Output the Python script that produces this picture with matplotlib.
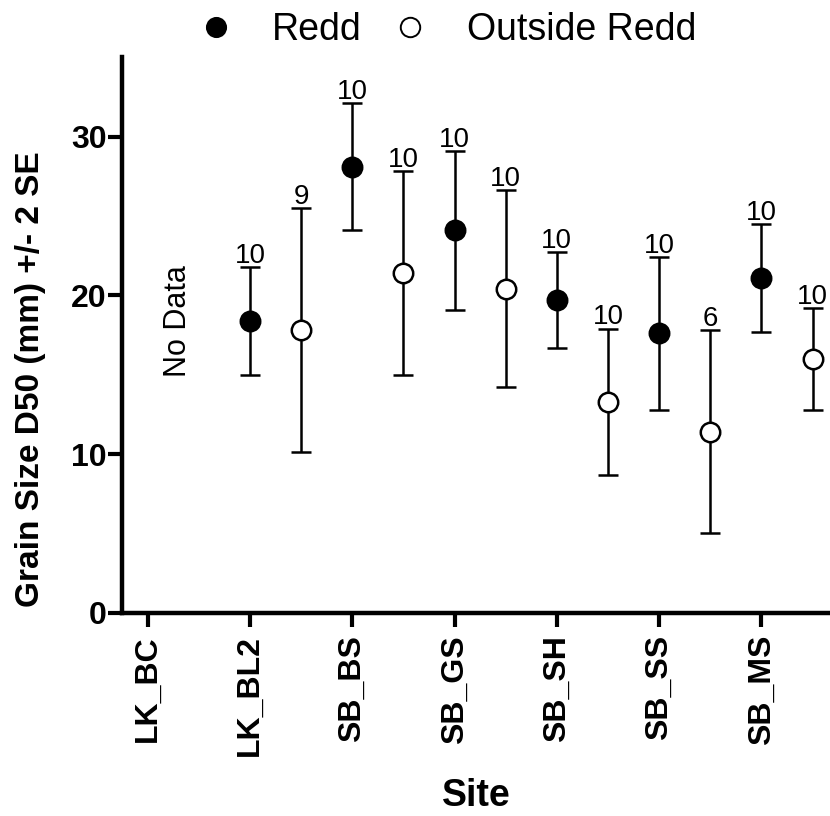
import matplotlib.pyplot as plt
from matplotlib.lines import Line2D
import numpy as np

plt.rcParams['font.family'] = ['Liberation Sans', 'DejaVu Sans']

# Sites on the x axis; LK_BC has no data
sites = ["LK_BC", "LK_BL2", "SB_BS", "SB_GS", "SB_SH", "SB_SS", "SB_MS"]

# Redd samples (site index, mean, lower, upper, n)
redd_idx = [1, 2, 3, 4, 5, 6]
redd_mean = [18.4, 28.1, 24.1, 19.7, 17.6, 21.1]
redd_lo = [15.0, 24.1, 19.1, 16.7, 12.8, 17.7]
redd_hi = [21.8, 32.1, 29.1, 22.7, 22.4, 24.5]
redd_n = [10, 10, 10, 10, 10, 10]

# Outside-redd samples, drawn half a step to the right of each site
out_idx = [1, 2, 3, 4, 5, 6]
out_mean = [17.8, 21.4, 20.4, 13.3, 11.4, 16.0]
out_lo = [10.1, 15.0, 14.2, 8.7, 5.0, 12.8]
out_hi = [25.5, 27.8, 26.6, 17.9, 17.8, 19.2]
out_n = [9, 10, 10, 10, 6, 10]

fig = plt.figure(figsize=(8.3, 8.16), dpi=100)
ax = fig.add_axes([0.147, 0.249, 0.853, 0.681])

err_kw = dict(fmt='o', markersize=14, ecolor='black', elinewidth=1.8,
              capsize=7.5, capthick=2.4, markeredgecolor='black', markeredgewidth=1.8)

x_r = np.array(redd_idx, dtype=float)
m_r = np.array(redd_mean)
ax.errorbar(x_r, m_r, yerr=[m_r - np.array(redd_lo), np.array(redd_hi) - m_r],
            markerfacecolor='black', **err_kw)

x_o = np.array(out_idx, dtype=float) + 0.5
m_o = np.array(out_mean)
ax.errorbar(x_o, m_o, yerr=[m_o - np.array(out_lo), np.array(out_hi) - m_o],
            markerfacecolor='white', **err_kw)

# sample sizes sitting on the upper caps
for x, top, n in zip(np.concatenate([x_r, x_o]), redd_hi + out_hi, redd_n + out_n):
    ax.annotate(str(n), (x, top), xytext=(0, 3), textcoords='offset points',
                ha='center', va='baseline', fontsize=20)

ax.text(0.3, 18.35, "No Data", rotation=90, ha='center', va='center', fontsize=22)

ax.set_xlim(-0.25, 6.67)
ax.set_ylim(0, 35)
ax.set_xticks(range(len(sites)))
ax.set_xticklabels(sites, rotation=90, fontsize=23, fontweight='bold')
ax.set_yticks([0, 10, 20, 30])
ax.set_yticklabels(['0', '10', '20', '30'], fontsize=23, fontweight='bold')

ax.spines['top'].set_visible(False)
ax.spines['right'].set_visible(False)
ax.spines['left'].set_linewidth(3.2)
ax.spines['bottom'].set_linewidth(3.2)
ax.tick_params(axis='both', length=10, width=3, direction='out')
ax.tick_params(axis='y', pad=1)
ax.tick_params(axis='x', pad=6)

ax.set_xlabel("Site", fontsize=27, fontweight='bold')
ax.xaxis.set_label_coords(0.5, -0.298)
ax.set_ylabel("Grain Size D50 (mm) +/- 2 SE", fontsize=24, fontweight='bold')
ax.yaxis.set_label_coords(-0.107, 0.42)

# legend: markers only
handles = [Line2D([], [], ls='none', marker='o', markersize=14, color='black',
                  markerfacecolor='black', markeredgewidth=1.2),
           Line2D([], [], ls='none', marker='o', markersize=14, color='black',
                  markerfacecolor='white', markeredgewidth=1.4)]
fig.legend(handles, ['Redd', 'Outside Redd'], loc='center', bbox_to_anchor=(437 / 830, 1 - 30 / 816),
           ncol=2, frameon=False, fontsize=27, handlelength=2.0, handletextpad=0.5,
           columnspacing=0.3, borderaxespad=0, borderpad=0)

plt.savefig("out.png", dpi=100)
